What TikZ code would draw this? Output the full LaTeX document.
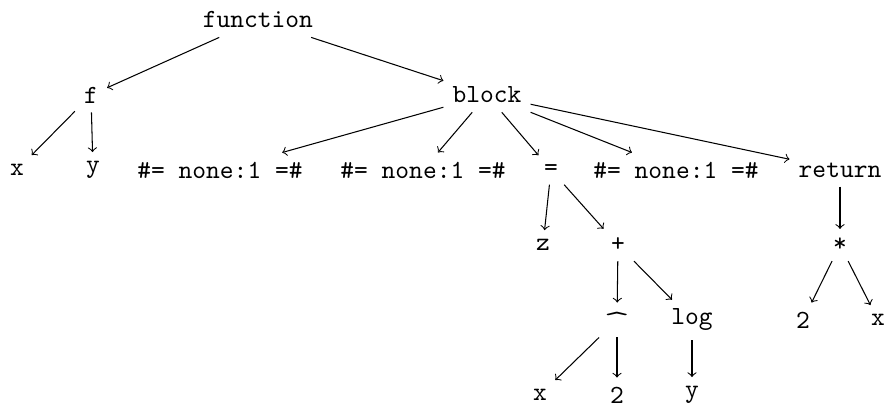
\documentclass[tikz,border=0pt]{standalone}
\usepackage{fontspec}
\usepackage{graphicx}
\begin{document}
\begin{tikzpicture}[x=0.3818pt,y=-0.3818pt,
  every node/.style={font=\ttfamily},
  edge/.style={->}]
\useasboundingbox (0,0) rectangle (887,407);
% level 0
\node (fun) at (258,20) {function};
% level 1
\node (f) at (91,95) {f};
\node (blk) at (487,95) {block};
% level 2
\node (fx) at (17,170) {x};
\node (fy) at (93,170) {y};
\node (c1) at (220,170) {\#= none:1 =\#};
\node (c2) at (423,170) {\#= none:1 =\#};
\node (eq) at (551,170) {=};
\node (c3) at (676,170) {\#= none:1 =\#};
\node (ret) at (840,170) {return};
% level 3
\node (z) at (543,245) {z};
\node (plus) at (618,245) {+};
\node (mul) at (840,245) {*};
% level 4 (the power operator is drawn as a wide caret)
\node (pow) at (617,320) {\scalebox{2}[1]{\textasciicircum}};
\node (log) at (692,320) {log};
\node (two) at (803,320) {2};
\node (mx) at (878,320) {x};
% level 5
\node (px) at (540,395) {x};
\node (p2) at (617,395) {2};
\node (ly) at (692,395) {y};

\draw[edge] (fun) -- (f);
\draw[edge] (fun) -- (blk);
\draw[edge] (f) -- (fx);
\draw[edge] (f) -- (fy);
\draw[edge] (blk) -- (c1);
\draw[edge] (blk) -- (c2);
\draw[edge] (blk) -- (eq);
\draw[edge] (blk) -- (c3);
\draw[edge] (blk) -- (ret);
\draw[edge] (eq) -- (z);
\draw[edge] (eq) -- (plus);
\draw[edge] (plus) -- (pow);
\draw[edge] (plus) -- (log);
\draw[edge] (pow) -- (px);
\draw[edge] (pow) -- (p2);
\draw[edge] (log) -- (ly);
\draw[edge] (ret) -- (mul);
\draw[edge] (mul) -- (two);
\draw[edge] (mul) -- (mx);
\end{tikzpicture}
\end{document}
